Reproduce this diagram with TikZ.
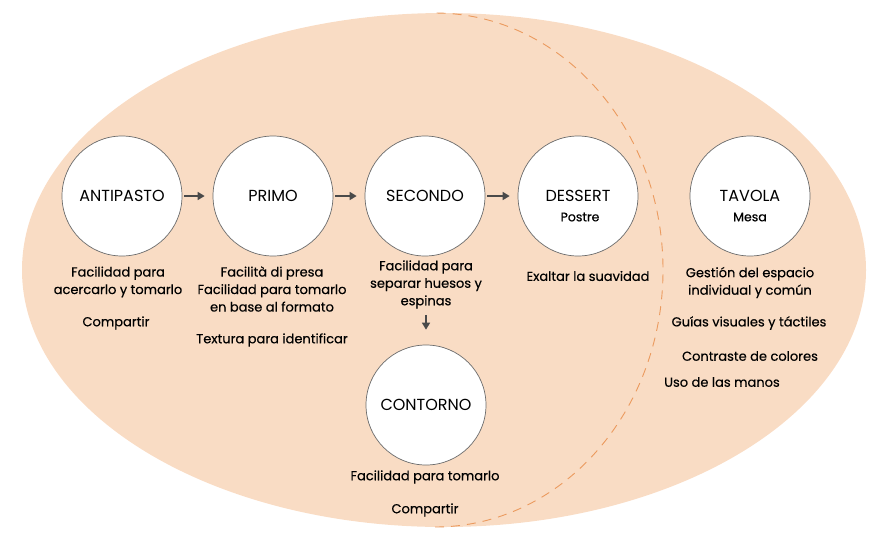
\documentclass[tikz,border=0pt]{standalone}
\usepackage{fontspec}
\setmainfont{Poppins}
\newfontfamily\notafont{Poppins}[FakeBold=0.4]
\usetikzlibrary{arrows.meta}

\definecolor{peach}{HTML}{F9DCC4}
\definecolor{dashorange}{HTML}{EB9A5E}
\definecolor{ringgray}{HTML}{6B6B6B}
\definecolor{arrowgray}{HTML}{4A4A4A}

\begin{document}
\begin{tikzpicture}[x=1pt,y=-1pt,
        plato/.style={circle, draw=ringgray, fill=white, line width=0.7pt, minimum size=120pt, inner sep=0pt, font=\fontsize{16}{18}\selectfont},
        sub/.style={font=\notafont\fontsize{12.5}{15}\selectfont, inner sep=1pt},
        nota/.style={font=\notafont\fontsize{13}{17.5}\selectfont, align=center, inner sep=1pt},
        flecha/.style={-{Triangle[length=7pt,width=8pt]}, line width=1.6pt, arrowgray}]
        \useasboundingbox (0,0) rectangle (886,547);

        % Fondo
        \fill[peach] (444,270) ellipse [x radius=422, y radius=257];
        \draw[dashorange, line width=0.9pt, dash pattern=on 9pt off 7pt] (435,527) arc[start angle=90, end angle=-90, x radius=228, y radius=257];

        % Platos
        \node[plato] (antipasto) at (122,196) {ANTIPASTO};
        \node[plato] (primo)     at (273,196) {PRIMO};
        \node[plato] (secondo)   at (425,196) {SECONDO};
        \node[plato] (dessert)   at (578,196) {DESSERT};
        \node[plato] (tavola)    at (750,196) {TAVOLA};
        \node[plato] (contorno)  at (426,405) {CONTORNO};

        \node[sub] (postre) at (580,217) {Postre};
        \node[sub] (mesa)   at (750,217) {Mesa};

        % Notas
        \node[nota] (ant-a) at (118,282)   {Facilidad para\\acercarlo y tomarlo};
        \node[nota] (ant-b) at (116,323)   {Compartir};
        \node[nota] (pri-a) at (272,289)   {Facilità di presa\\Facilidad para tomarlo\\en base al formato};
        \node[nota] (pri-b) at (272,340)   {Textura para identificar};
        \node[nota] (sec-a) at (426,284.5) {Facilidad para\\separar huesos y\\espinas};
        \node[nota] (des-a) at (588,276)   {Exaltar la suavidad};
        \node[nota] (tav-a) at (750,282.5) {Gestión del espacio\\individual y común};
        \node[nota] (tav-b) at (749,323)   {Guías visuales y táctiles};
        \node[nota] (tav-c) at (750,356)   {Contraste de colores};
        \node[nota] (tav-d) at (722,382)   {Uso de las manos};
        \node[nota] (con-a) at (425,477)   {Facilidad para tomarlo};
        \node[nota] (con-b) at (425,510)   {Compartir};

        % Flechas
        \draw[flecha, shorten <=2pt, shorten >=8pt] (antipasto) -- (primo);
        \draw[flecha, shorten <=2pt, shorten >=8pt] (primo) -- (secondo);
        \draw[flecha, shorten <=2pt, shorten >=8pt] (secondo) -- (dessert);
        \draw[flecha, shorten <=5pt, shorten >=15pt] (sec-a.south -| contorno.north) -- (contorno.north);
    \end{tikzpicture}
\end{document}
